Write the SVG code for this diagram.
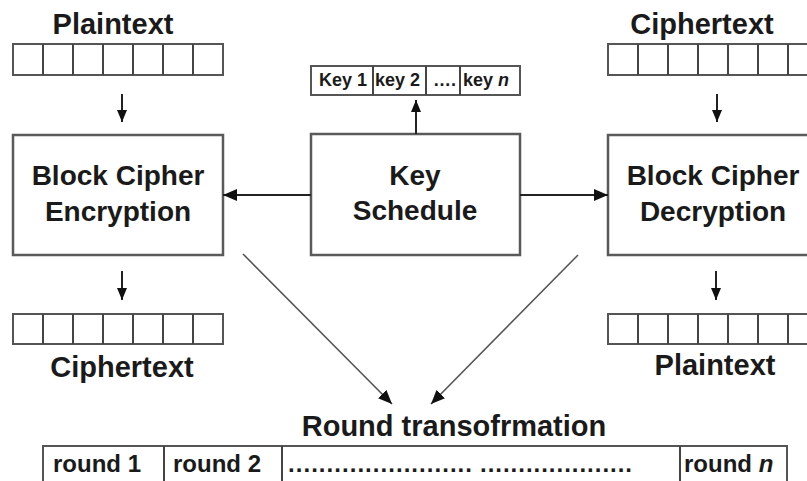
<svg xmlns="http://www.w3.org/2000/svg" width="807" height="481" viewBox="0 0 807 481">
<style>
.box{fill:#fff;stroke:#5a5a5a;stroke-width:2.5}
.cell{fill:#fff;stroke:#555;stroke-width:2}
.div{stroke:#444;stroke-width:2}
.t{font-family:"Liberation Sans",Arial,sans-serif;font-weight:bold;fill:#1a1a1a}
.big{font-size:28px;text-anchor:middle}
.title{font-size:29px;text-anchor:middle}
.small{font-size:18px}
.rnd{font-size:24px}
.arr{stroke:#222;stroke-width:2;fill:none}
.diag{stroke:#555;stroke-width:1.6;fill:none}
</style>
<defs>
<marker id="ah" markerUnits="userSpaceOnUse" markerWidth="12" markerHeight="10" viewBox="0 0 12 10" refX="12" refY="5" orient="auto">
<path d="M0,0 L12,5 L0,10 z" fill="#111"/>
</marker>
<marker id="ah2" markerUnits="userSpaceOnUse" markerWidth="14" markerHeight="12" viewBox="0 0 14 12" refX="14" refY="6" orient="auto">
<path d="M0,0 L14,6 L0,12 z" fill="#111"/>
</marker>
</defs>
<rect width="807" height="481" fill="#fff"/>

<g id="plaintext-in">
<text class="t title" x="113" y="34">Plaintext</text>
<rect class="cell" x="13" y="44" width="210" height="31"/>
<path class="div" d="M43,44V75M73,44V75M103,44V75M133,44V75M163,44V75M193,44V75"/>
</g>

<g id="encryption">
<rect class="box" x="13" y="135" width="210" height="120"/>
<text class="t big" x="118" y="185">Block Cipher</text>
<text class="t big" x="118" y="221">Encryption</text>
</g>

<g id="ciphertext-out">
<rect class="cell" x="13" y="314" width="210" height="30"/>
<path class="div" d="M43,314V344M73,314V344M103,314V344M133,314V344M163,314V344M193,314V344"/>
<text class="t title" x="122" y="377">Ciphertext</text>
</g>

<g id="keys">
<rect class="cell" x="311" y="66" width="209" height="29"/>
<path class="div" d="M373,66V95M426,66V95M460,66V95"/>
<text class="t small" x="319" y="86">Key 1</text>
<text class="t small" x="375" y="86">key 2</text>
<text class="t small" x="433" y="86">….</text>
<text class="t small" x="463" y="86">key <tspan font-style="italic">n</tspan></text>
</g>

<g id="key-schedule">
<rect class="box" x="311" y="134" width="209" height="121"/>
<text class="t big" x="415" y="185">Key</text>
<text class="t big" x="415" y="220">Schedule</text>
</g>

<g id="ciphertext-in">
<text class="t title" x="702" y="34">Ciphertext</text>
<rect class="cell" x="608" y="44" width="210" height="31"/>
<path class="div" d="M638,44V75M668,44V75M698,44V75M728,44V75M758,44V75M788,44V75"/>
</g>

<g id="decryption">
<rect class="box" x="608" y="135" width="210" height="120"/>
<text class="t big" x="713" y="185">Block Cipher</text>
<text class="t big" x="713" y="221">Decryption</text>
</g>

<g id="plaintext-out">
<rect class="cell" x="608" y="314" width="210" height="30"/>
<path class="div" d="M638,314V344M668,314V344M698,314V344M728,314V344M758,314V344M788,314V344"/>
<text class="t title" x="715" y="375">Plaintext</text>
</g>

<g id="round-transformation">
<text class="t title" x="454" y="436">Round transofrmation</text>
<rect class="cell" x="43" y="446" width="744" height="50"/>
<path class="div" d="M164,446V481M282,446V481M680,446V481"/>
<text class="t rnd" x="53" y="472">round 1</text>
<text class="t rnd" x="173" y="472">round 2</text>
<text class="t rnd" x="288" y="472" textLength="184" lengthAdjust="spacing">........................</text>
<text class="t rnd" x="480" y="472" textLength="152" lengthAdjust="spacing">....................</text>
<text class="t rnd" x="684" y="472">round <tspan font-style="italic">n</tspan></text>
</g>

<g id="connectors">
<line class="arr" x1="122" y1="94" x2="122" y2="122" marker-end="url(#ah)"/>
<line class="arr" x1="122" y1="271" x2="122" y2="300" marker-end="url(#ah)"/>
<line class="arr" x1="717" y1="94" x2="717" y2="122" marker-end="url(#ah)"/>
<line class="arr" x1="716" y1="271" x2="716" y2="300" marker-end="url(#ah)"/>
<line class="arr" x1="416" y1="134" x2="416" y2="100" marker-end="url(#ah)"/>
<line class="arr" x1="311" y1="195" x2="223" y2="195" stroke="#444" marker-end="url(#ah2)"/>
<line class="arr" x1="520" y1="195" x2="608" y2="195" stroke="#444" marker-end="url(#ah2)"/>
<line class="diag" x1="243" y1="254" x2="392" y2="404" marker-end="url(#ah2)"/>
<line class="diag" x1="578" y1="255" x2="431" y2="404" marker-end="url(#ah2)"/>
</g>
</svg>
